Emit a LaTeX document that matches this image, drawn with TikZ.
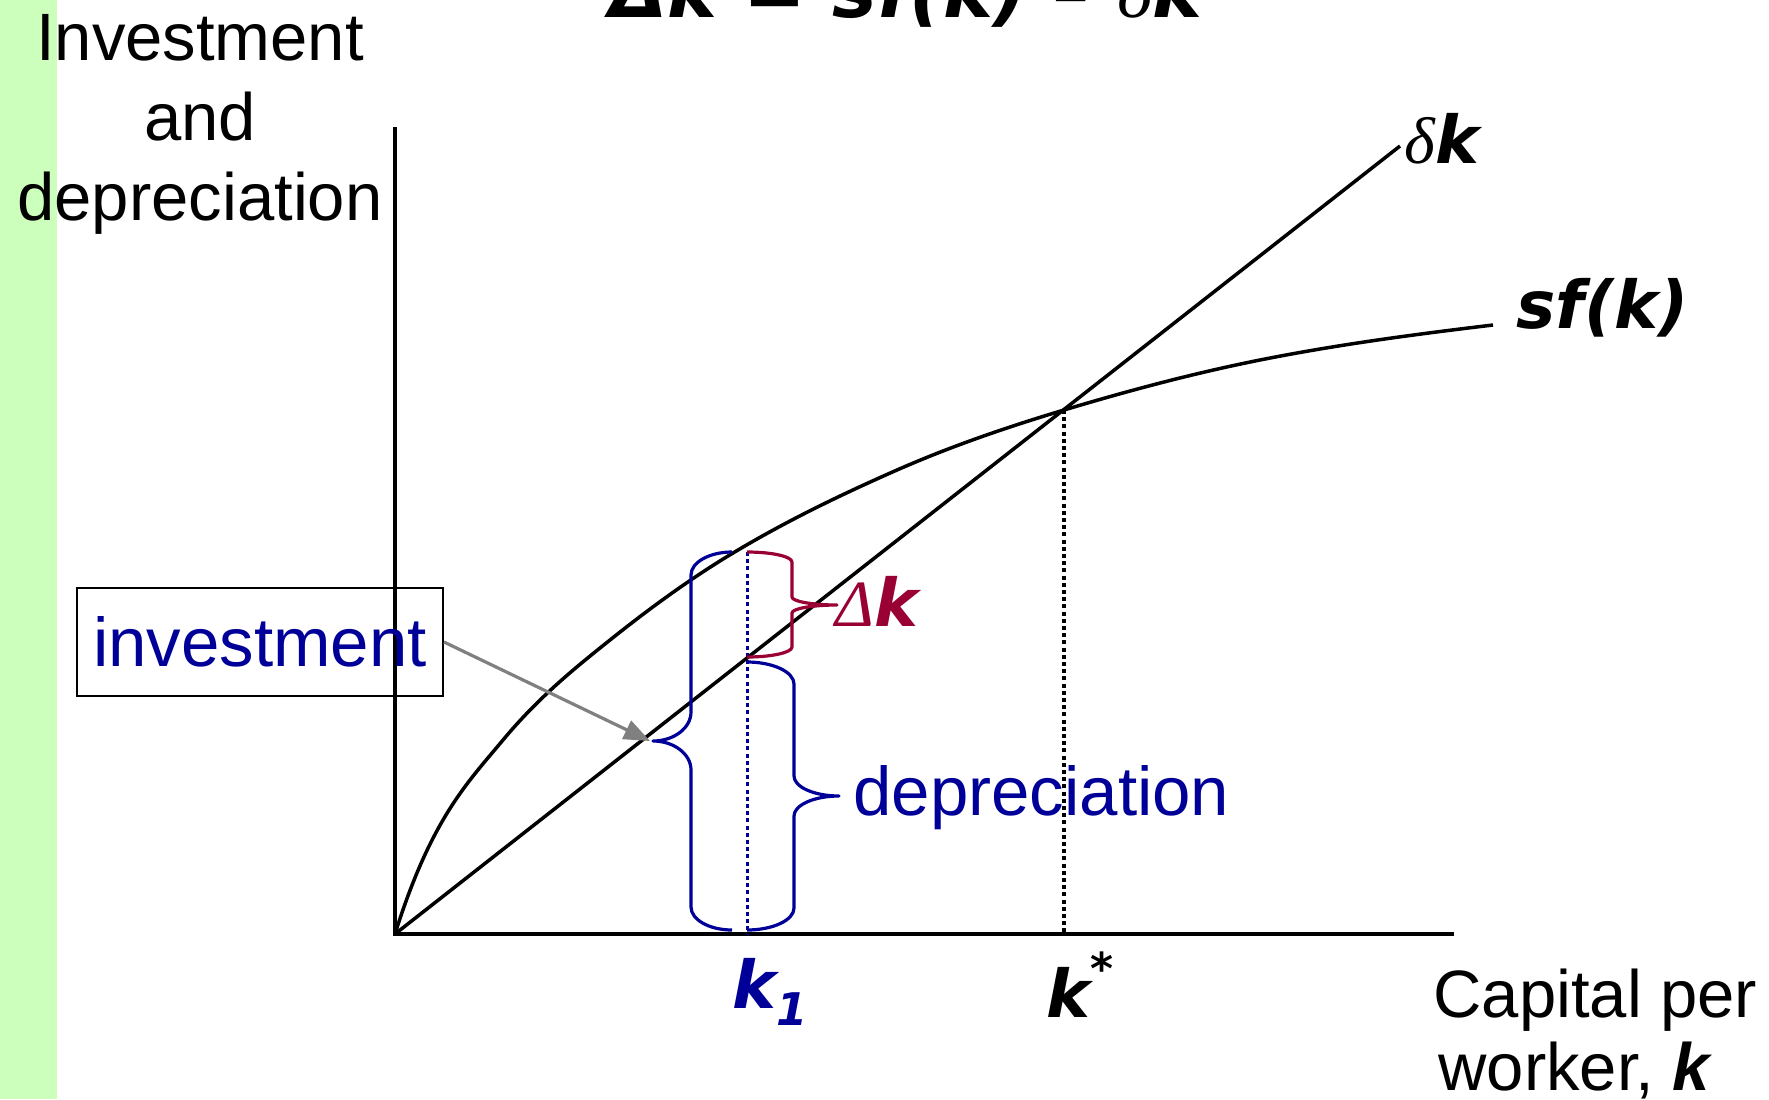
\documentclass[tikz,border=0pt]{standalone}
\usepackage{fontspec}
\setmainfont{Liberation Sans}
\newfontfamily\kf[BoldFont={DejaVu Sans Bold},BoldItalicFont={DejaVu Sans Bold Oblique},ItalicFont={DejaVu Sans Oblique}]{DejaVu Sans}
\newfontfamily\symf{Liberation Serif}
\usetikzlibrary{arrows.meta}
\definecolor{dblue}{RGB}{0,0,153}
\definecolor{dred}{RGB}{153,0,51}
\definecolor{lgreen}{RGB}{204,255,187}
\definecolor{agray}{RGB}{128,128,128}
\begin{document}
\begin{tikzpicture}[x=0.5pt,y=-0.5pt,
  axis/.style={line width=2pt, black},
  curve/.style={line width=1.75pt, black},
  bracepath/.style={line width=1.6pt, line join=round},
  dotline/.style={line width=1.75pt, dash pattern=on 2pt off 1.6pt},
  garrow/.style={line width=1.6pt, agray, -{Triangle[length=13pt,width=10pt]}},
  lab/.style={inner sep=0pt, font=\fontsize{33.5}{40}\selectfont},
  blab/.style={inner sep=0pt, text=dblue, font=\fontsize{34.5}{40}\selectfont},
  klab/.style={inner sep=0pt, font=\kf\bfseries\itshape\fontsize{33}{40}\selectfont},
  box/.style={draw, line width=1pt, minimum width=183pt, minimum height=54pt, inner sep=0pt,
    text=dblue, font=\fontsize{34.5}{40}\selectfont}
]
\useasboundingbox (0,0) rectangle (1769,1099);
\clip (0,0) rectangle (1769,1099);
\fill[lgreen] (0,0) rectangle (57,1099);

% key points
\coordinate (O) at (395,934);
\coordinate (ytop) at (395,127);
\coordinate (xend) at (1454,934);
\coordinate (dend) at (1400,146);
\coordinate (kstar) at (1064,410);
\coordinate (kstarB) at (1064,934);
\coordinate (k1T) at (747,552);
\coordinate (k1B) at (747,934);
\coordinate (itip) at (650,741);
\coordinate (sfend) at (1493,325);

% title (cut off at top)
\node[klab, font=\kf\bfseries\itshape\fontsize{37.5}{40}\selectfont, anchor=base] (title) at (906,17)
  {Δk = sf(k) – {\symf\mdseries\itshape δ}k};

% axes labels
\node[lab, anchor=base] (ylab1) at (200,60) {Investment};
\node[lab, anchor=base] (ylab2) at (200,140) {and};
\node[lab, anchor=base] (ylab3) at (200,220) {depreciation};
\node[lab, anchor=base west] (xlab1) at (1433,1017) {Capital per};
\node[lab, anchor=base west] (xlab2) at (1438,1090) {worker, \textbf{\textit{k}}};

% axes
\draw[axis] (ytop) -- (O) -- (xend);

% dotted verticals
\draw[dotline, black] (kstar) -- (kstarB);
\draw[dotline, dblue, line width=1.5pt] (k1T) -- (k1B);

% depreciation line and sf(k)
\draw[curve] (O) -- (dend);
\draw[curve] (O)
  .. controls +(36,-115) and +(-36,43.2) .. (503,740)
  .. controls +(35.67,-42.8) and +(-35.67,28.5) .. (610,640)
  .. controls +(41,-32.8) and +(-41,24.6) .. (733,553)
  .. controls +(54.67,-32.8) and +(-54.67,24.1) .. (897,470)
  .. controls +(55.33,-24.3) and +(-55.33,16.6) .. (kstar)
  .. controls +(65.67,-19.7) and +(-65.67,13.1) .. (1260,360)
  .. controls +(77.67,-15.5) and +(-77.67,9.3) .. (sfend);

\node[klab, anchor=base west] (dklab) at (1404,163) {{\symf\mdseries\itshape δ}k};
\node[klab, anchor=base west] (sflab) at (1516,328) {sf(k)};

% investment brace (blue, tip left)
\draw[bracepath, dblue] (732,552) .. controls +(-22.6,0) and +(0,-12.7) .. ++(-41,23)
  -- (691,712)
  .. controls +(0,16) and +(20.9,0) .. ++(-38,29)
  .. controls +(20.9,0) and +(0,-16) .. ++(38,29)
  -- (691,907)
  .. controls +(0,12.7) and +(-22.6,0) .. ++(41,23);

% delta k brace (red, tip right)
\draw[bracepath, dred] (747,552) .. controls +(24.8,0) and +(0,-5.5) .. ++(45,10)
  -- (792,597)
  .. controls +(0,4.4) and +(-24.8,0) .. ++(45,8)
  .. controls +(-24.8,0) and +(0,-4.4) .. ++(-45,8)
  -- (792,647)
  .. controls +(0,5.5) and +(24.8,0) .. ++(-45,10);

% depreciation brace (blue, tip right)
\draw[bracepath, dblue] (747,662) .. controls +(25.9,0) and +(0,-12.1) .. ++(47,22)
  -- (794,776)
  .. controls +(0,11) and +(-24.8,0) .. ++(45,20)
  .. controls +(-24.8,0) and +(0,-11) .. ++(-45,20)
  -- (794,908)
  .. controls +(0,12.1) and +(25.9,0) .. ++(-47,22);

\node[klab, text=dred, anchor=base west] (dk) at (835,626) {{\symf\mdseries\itshape Δ}k};
\node[blab, anchor=base west] (dep) at (853,815) {depreciation};

% investment box and arrow
\node[box] (inv) at (260,642) {investment};
\draw[garrow] (inv.east) -- (itip);

% k labels
\node[klab, text=dblue, anchor=base west] (k1) at (732,1008) {k\raisebox{-8.5pt}{\fontsize{22.5}{30}\selectfont 1}};
\node[klab, anchor=base west] (ks) at (1046,1017) {k\raisebox{0.9ex}{\fontsize{22}{30}\selectfont *}};
\end{tikzpicture}
\end{document}
